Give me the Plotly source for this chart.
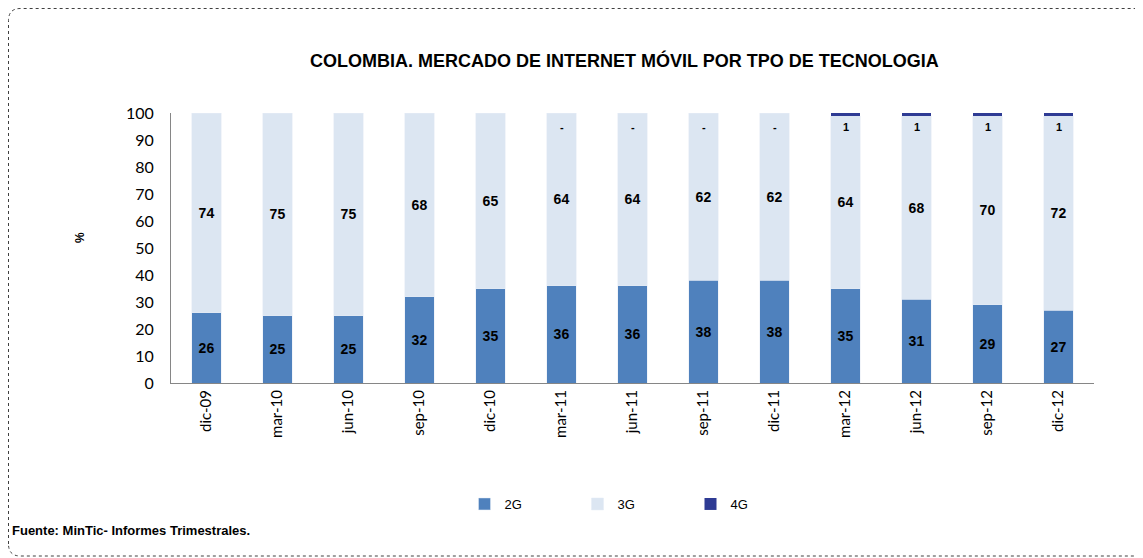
import plotly.graph_objects as go

# Datos (% de participacion por tecnologia)
periodos = ["dic-09", "mar-10", "jun-10", "sep-10", "dic-10", "mar-11", "jun-11",
            "sep-11", "dic-11", "mar-12", "jun-12", "sep-12", "dic-12"]
g2 = [26, 25, 25, 32, 35, 36, 36, 38, 38, 35, 31, 29, 27]
g3 = [74, 75, 75, 68, 65, 64, 64, 62, 62, 64, 68, 70, 72]
g4 = [None, None, None, None, None, 0, 0, 0, 0, 1, 1, 1, 1]
g4_labels = ["", "", "", "", "", "-", "-", "-", "-", "1", "1", "1", "1"]

# la pagina deja 8px de margen en el body
OFF = 8
W, H = 1135, 550
L, T = 171 - OFF, 113 - OFF
R, B = W - (1094 - OFF), H - (383 - OFF)
pw, ph = W - L - R, H - T - B


def px(x, y):
    # pixel de pantalla -> coords paper
    return (x - OFF - L) / pw, (H - B - (y - OFF)) / ph


lbl_font = dict(family="Liberation Sans, Arial", size=14, color="black")

fig = go.Figure()
fig.add_trace(go.Bar(x=periodos, y=g2, name="2G", marker_color="#4F81BD",
                     text=g2, texttemplate="<b>%{text}</b>", textposition="inside",
                     insidetextanchor="middle", textangle=0, textfont=lbl_font))
fig.add_trace(go.Bar(x=periodos, y=g3, name="3G", marker_color="#DCE6F2",
                     text=g3, texttemplate="<b>%{text}</b>", textposition="inside",
                     insidetextanchor="middle", textangle=0, textfont=lbl_font))
fig.add_trace(go.Bar(x=periodos, y=g4, name="4G", marker_color="#2E3B94",
                     marker_line_width=0))

# etiquetas 4G justo debajo del tope de la barra
for p, a, b, c, t in zip(periodos, g2, g3, g4, g4_labels):
    if t:
        fig.add_annotation(x=p, y=a + b + (c or 0), text="<b>%s</b>" % t, showarrow=False,
                           yshift=-14, font=dict(family="Liberation Sans, Arial", size=11, color="black"))

# titulo, eje y, fuente
tx, ty = px(624, 60)
fig.add_annotation(x=tx, y=ty, xref="paper", yref="paper", showarrow=False,
                   xanchor="center", yanchor="middle",
                   text="<b>COLOMBIA. MERCADO DE INTERNET MÓVIL POR TPO DE TECNOLOGIA</b>",
                   font=dict(family="Liberation Sans, Arial", size=18, color="black"))
ax_, ay_ = px(80, 238)
fig.add_annotation(x=ax_, y=ay_, xref="paper", yref="paper", showarrow=False, textangle=-90,
                   xanchor="center", yanchor="middle",
                   text="<b>%</b>", font=dict(family="Liberation Sans, Arial", size=12, color="black"))
sx, sy = px(10, 530)
fig.add_annotation(x=sx, y=sy, xref="paper", yref="paper", showarrow=False,
                   xanchor="left", yanchor="middle",
                   text="<b>Fuente: MinTic- Informes Trimestrales.</b>",
                   font=dict(family="Liberation Sans, Arial", size=13, color="black"))

# marco con esquinas redondeadas (el borde derecho queda fuera de la imagen)
x0, y0 = px(OFF + 0.5, 556)
x1, y1 = px(1160, OFF + 0.5)
rx, ry = 12 / pw, 12 / ph
path = (f"M {x0},{y0 + ry} L {x0},{y1 - ry} Q {x0},{y1} {x0 + rx},{y1} "
        f"L {x1},{y1} L {x1},{y0} L {x0 + rx},{y0} Q {x0},{y0} {x0},{y0 + ry} Z")
fig.add_shape(type="path", path=path, xref="paper", yref="paper",
              line=dict(color="#404040", width=1, dash="dot"), layer="below")

lx, ly = px(634, 504)
fig.update_layout(
    width=W, height=H, barmode="stack", bargap=0.59,
    margin=dict(l=L, r=R, t=T, b=B),
    plot_bgcolor="white", paper_bgcolor="white",
    font=dict(family="Lato, Calibri", size=15, color="black"),
    showlegend=True,
    legend=dict(orientation="h", x=lx, y=ly, xanchor="center", yanchor="middle",
                traceorder="normal", itemwidth=30, entrywidth=68, entrywidthmode="pixels",
                font=dict(family="Liberation Sans, Arial", size=13, color="black")),
    xaxis=dict(showline=True, linecolor="#868686", linewidth=1, tickangle=-90,
               ticks="", tickfont=dict(family="Lato, Calibri", size=15)),
    yaxis=dict(range=[0, 100], dtick=10, showline=True, linecolor="#868686", linewidth=1,
               showgrid=False, zeroline=False, ticks="", ticklabelstandoff=13,
               tickfont=dict(family="Lato, Calibri", size=16)),
)

fig.write_html("out.html")
